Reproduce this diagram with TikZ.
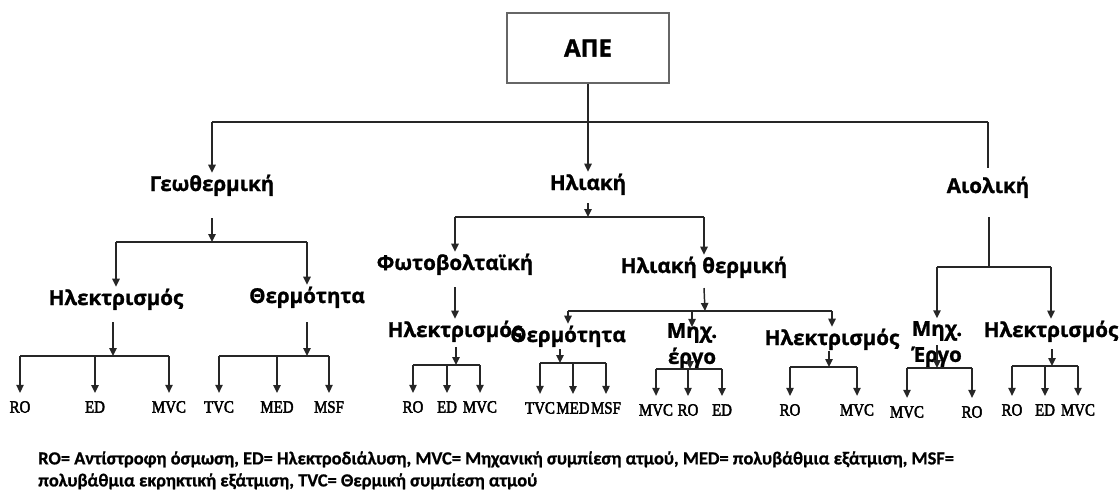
\documentclass[tikz,border=0pt]{standalone}
\usepackage{fontspec}
\setmainfont{Open Sans}
\newfontfamily\labfont[BoldFeatures={FakeBold=1.2}]{Open Sans}
\newfontfamily\leaffont[FakeStretch=0.86,FakeBold=2.5]{Liberation Serif}
\newfontfamily\notefont[BoldFeatures={FakeBold=0.8}]{Carlito}
\usetikzlibrary{arrows.meta}
\tikzset{
  lbl/.style={font=\labfont\bfseries\fontsize{15.4}{20}\selectfont, inner sep=0pt, align=center, text height=11.5pt, text depth=4pt},
  lbltwo/.style={font=\labfont\bfseries\fontsize{15.4}{19.5}\selectfont, inner sep=0pt, align=center},
  apebox/.style={draw=black!60, line width=0.9pt, minimum width=121.5pt, minimum height=52.5pt, font=\labfont\bfseries\fontsize{18}{20}\selectfont},
  leaf/.style={font=\leaffont\fontsize{13}{14}\selectfont, inner sep=0pt},
  ln/.style={line width=1.1pt, draw=black!85},
  arr/.style={ln, -{Triangle[length=6pt,width=5.5pt]}, shorten >=2pt},
  leafarr/.style={ln, -{Triangle[length=6pt,width=5.5pt]}, shorten >=6pt},
  note/.style={font=\notefont\bfseries\fontsize{13.8}{16.5}\selectfont, inner sep=0pt, align=left, anchor=north west}
}
\begin{document}
\begin{tikzpicture}[x=0.75pt,y=-0.75pt]
\useasboundingbox (0,0) rectangle (1119,494);
% top
\node[apebox] (ape) at (588,48) {ΑΠΕ};
\node[lbl] (geo) at (212,186) {Γεωθερμική};
\node[lbl] (hel) at (588,185) {Ηλιακή};
\node[lbl] (aio) at (988,188) {Αιολική};
\coordinate (top) at (588,122);
\draw[ln] (geo |- top) -- (aio |- top);
\draw[arr] (ape) -- (hel);
\draw[arr] (geo |- top) -- (geo);
\draw[ln, shorten >=7pt] (aio |- top) -- (aio);

% geothermal
\node[lbl] (geoEl) at (116,300) {Ηλεκτρισμός};
\node[lbl] (geoTh) at (307,298) {Θερμότητα};
\coordinate (gbus) at (212,242);
\draw[arr, shorten >=0pt] (geo |- 0,218) -- (gbus);
\draw[ln] (geoEl |- gbus) -- (geoTh |- gbus);
\draw[arr] (geoEl |- gbus) -- (geoEl);
\draw[arr] (geoTh |- gbus) -- (geoTh);

\coordinate (geb) at (113,356);
\node[leaf] (g1) at (20,407) {RO};
\node[leaf] (g2) at (95,407) {ED};
\node[leaf] (g3) at (169,407) {MVC};
\draw[arr, shorten >=0pt] (geb |- 0,322) -- (geb);
\draw[ln] (g1 |- geb) -- (g3 |- geb);
\foreach \n in {g1,g2,g3} \draw[leafarr] (\n |- geb) -- (\n);

\coordinate (gtb) at (307,356);
\node[leaf] (t1) at (219,407) {TVC};
\node[leaf] (t2) at (277,407) {MED};
\node[leaf] (t3) at (329,407) {MSF};
\draw[arr, shorten >=0pt] (gtb |- 0,322) -- (gtb);
\draw[ln] (t1 |- gtb) -- (t3 |- gtb);
\foreach \n in {t1,t2,t3} \draw[leafarr] (\n |- gtb) -- (\n);

% solar
\node[lbl] (pv) at (455,265) {Φωτοβολταϊκή};
\node[lbl] (sth) at (704,268) {Ηλιακή θερμική};
\coordinate (hbus) at (588,217);
\draw[arr, shorten >=0pt] (hel |- 0,203) -- (hbus);
\draw[ln] (pv |- hbus) -- (sth |- hbus);
\draw[arr] (pv |- hbus) -- (pv);
\draw[arr] (sth |- hbus) -- (sth);

\node[lbl] (pvEl) at (455,332) {Ηλεκτρισμός};
\draw[arr] (pv |- 0,287) -- (pvEl);
\coordinate (pvb) at (456,365);
\node[leaf] (p1) at (413,407) {RO};
\node[leaf] (p2) at (447,407) {ED};
\node[leaf] (p3) at (480,407) {MVC};
\draw[arr, shorten >=0pt] (pvb |- 0,347) -- (pvb);
\draw[ln] (p1 |- pvb) -- (p3 |- pvb);
\foreach \n in {p1,p2,p3} \draw[leafarr] (\n |- pvb) -- (\n);

\coordinate (sbus) at (705,311);
\draw[arr, shorten >=0pt] (sth |- 0,288) -- (sbus);
\node[lbl] (sthTh) at (568,337) {Θερμότητα};
\node[lbltwo] (sthMe) at (692,346) {Μηχ.\\έργο};
\node[lbl] (sthEl) at (832,340) {Ηλεκτρισμός};
\draw[ln] (sthTh |- sbus) -- (sthEl |- sbus);
\draw[arr] (sthTh |- sbus) -- (sthTh);
\draw[arr, shorten >=-3pt] (sthMe |- sbus) -- (sthMe);
\draw[arr] (sthEl |- sbus) -- (sthEl);

\coordinate (stb) at (560,363);
\node[leaf] (s1) at (540,408) {TVC};
\node[leaf] (s2) at (573,408) {MED};
\node[leaf] (s3) at (606,408) {MSF};
\draw[arr, shorten >=0pt] (stb |- 0,349) -- (stb);
\draw[ln] (s1 |- stb) -- (s3 |- stb);
\foreach \n in {s1,s2,s3} \draw[leafarr] (\n |- stb) -- (\n);

\coordinate (smb) at (690,369);
\node[leaf] (m1) at (656,410) {MVC};
\node[leaf] (m2) at (688,410) {RO};
\node[leaf] (m3) at (722,410) {ED};
\draw[arr, shorten >=0pt] (smb |- 0,360) -- (smb);
\draw[ln] (m1 |- smb) -- (m3 |- smb);
\foreach \n in {m1,m2,m3} \draw[leafarr] (\n |- smb) -- (\n);

\coordinate (seb) at (829,367);
\node[leaf] (e1) at (790,410) {RO};
\node[leaf] (e2) at (857,410) {MVC};
\draw[arr, shorten >=0pt] (seb |- 0,351) -- (seb);
\draw[ln] (e1 |- seb) -- (e2 |- seb);
\foreach \n in {e1,e2} \draw[leafarr] (\n |- seb) -- (\n);

% wind
\coordinate (abus) at (989,267);
\draw[ln] (abus |- 0,217) -- (abus);
\node[lbltwo] (aioMe) at (937,344) {Μηχ.\\Έργο};
\node[lbl] (aioEl) at (1051,332) {Ηλεκτρισμός};
\draw[ln] (aioMe |- abus) -- (aioEl |- abus);
\draw[arr] (aioMe |- abus) -- (aioMe);
\draw[arr] (aioEl |- abus) -- (aioEl);

\coordinate (amb) at (937,368);
\node[leaf] (w1) at (907,412) {MVC};
\node[leaf] (w2) at (972,412) {RO};
\draw[arr, shorten >=0pt] (amb |- 0,345) -- (amb);
\draw[ln] (w1 |- amb) -- (w2 |- amb);
\foreach \n in {w1,w2} \draw[leafarr] (\n |- amb) -- (\n);

\coordinate (aeb) at (1052,366);
\node[leaf] (x1) at (1012,410) {RO};
\node[leaf] (x2) at (1045,410) {ED};
\node[leaf] (x3) at (1078,410) {MVC};
\draw[arr, shorten >=0pt] (aeb |- 0,349) -- (aeb);
\draw[ln] (x1 |- aeb) -- (x3 |- aeb);
\foreach \n in {x1,x2,x3} \draw[leafarr] (\n |- aeb) -- (\n);

% footnote
\node[note] (fn) at (38,451) {RO= Αντίστροφη όσμωση, ED= Ηλεκτροδιάλυση, MVC= Μηχανική συμπίεση ατμού, MED= πολυβάθμια εξάτμιση, MSF=\\πολυβάθμια εκρηκτική εξάτμιση, TVC= Θερμική συμπίεση ατμού};
\end{tikzpicture}
\end{document}
